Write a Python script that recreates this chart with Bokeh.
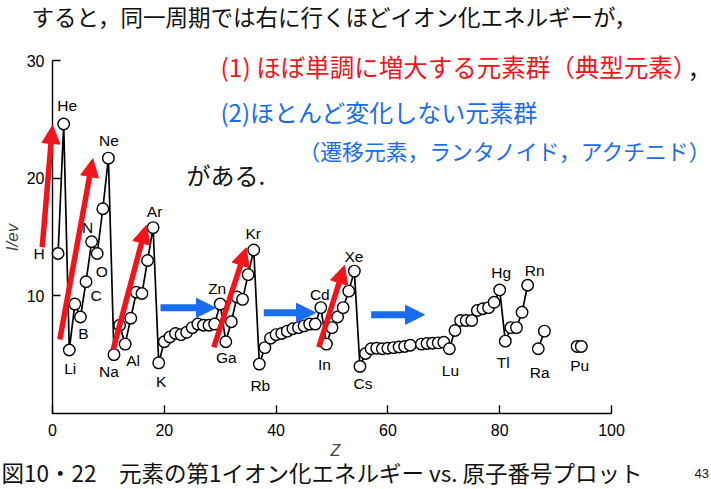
import math
from bokeh.plotting import figure
from bokeh.models import (Range1d, FixedTicker, ColumnDataSource, Label, LabelSet,
                          Arrow, NormalHead)
from bokeh.core.properties import value
from bokeh.embed import file_html
from bokeh.resources import INLINE

# ---------------- data ----------------
symbols = ["H", "He", "Li", "Be", "B", "C", "N", "O", "F", "Ne",
           "Na", "Mg", "Al", "Si", "P", "S", "Cl", "Ar",
           "K", "Ca", "Sc", "Ti", "V", "Cr", "Mn", "Fe", "Co", "Ni", "Cu", "Zn",
           "Ga", "Ge", "As", "Se", "Br", "Kr",
           "Rb", "Sr", "Y", "Zr", "Nb", "Mo", "Tc", "Ru", "Rh", "Pd", "Ag", "Cd",
           "In", "Sn", "Sb", "Te", "I", "Xe",
           "Cs", "Ba", "La", "Ce", "Pr", "Nd", "Pm", "Sm", "Eu", "Gd",
           "Dy", "Ho", "Er", "Tm", "Yb", "Lu",
           "Hf", "Ta", "W", "Re", "Os", "Ir", "Pt", "Au", "Hg",
           "Tl", "Pb", "Bi", "Po", "Rn"]
atomic_z = [1, 2, 3, 4, 5, 6, 7, 8, 9, 10,
            11, 12, 13, 14, 15, 16, 17, 18,
            19, 20, 21, 22, 23, 24, 25, 26, 27, 28, 29, 30,
            31, 32, 33, 34, 35, 36,
            37, 38, 39, 40, 41, 42, 43, 44, 45, 46, 47, 48,
            49, 50, 51, 52, 53, 54,
            55, 56, 57, 58, 59, 60, 61, 62, 63, 64,
            66, 67, 68, 69, 70, 71,
            72, 73, 74, 75, 76, 77, 78, 79, 80,
            81, 82, 83, 84, 85]
ion_energy = [13.6, 24.6, 5.4, 9.3, 8.2, 11.2, 14.6, 13.6, 17.4, 21.7,
              5.0, 7.5, 5.9, 8.1, 10.3, 10.2, 13.0, 15.8,
              4.3, 6.1, 6.5, 6.8, 6.7, 6.9, 7.3, 7.6, 7.5, 7.5, 7.6, 9.3,
              6.1, 7.8, 9.9, 9.7, 11.8, 13.9,
              4.2, 5.6, 6.4, 6.7, 6.8, 7.0, 7.2, 7.3, 7.45, 7.6, 7.6, 9.0,
              5.9, 7.3, 8.2, 9.0, 10.4, 12.1,
              4.0, 5.1, 5.5, 5.55, 5.5, 5.55, 5.6, 5.65, 5.7, 5.8,
              5.9, 5.95, 5.97, 6.0, 6.05, 5.5,
              7.05, 7.9, 7.9, 7.9, 8.75, 8.9, 9.0, 9.45, 10.5,
              6.15, 7.3, 7.3, 8.6, 10.9]

ra_symbols = ["Ra", "Ac"]
ra_z = [86.9, 88.0]
ra_energy = [5.5, 7.0]

pu_symbols = ["Pu", "Am"]
pu_z = [93.85, 94.6]
pu_energy = [5.7, 5.7]

x_ticks = [0, 20, 40, 60, 80, 100]
y_ticks = [10, 20, 30]

# labelled elements
label_names = ["H", "He", "Li", "B", "C", "N", "O", "Ne", "Na", "Al", "Ar", "K",
               "Zn", "Ga", "Kr", "Rb", "Cd", "In", "Xe", "Cs", "Lu", "Hg", "Tl",
               "Rn", "Ra", "Pu"]

# arrows (data units)
red_x0 = [-1.84, 1.31, 10.86, 28.86, 47.64]
red_y0 = [14.13, 6.29, 5.44, 5.63, 5.63]
red_x1 = [0.0, 7.21, 16.76, 34.65, 52.24]
red_y1 = [24.48, 21.65, 15.98, 14.08, 12.58]
blue_x0 = [19.32, 37.8, 57.01]
blue_y = [8.98, 8.56, 8.39]
blue_x1 = [29.16, 47.05, 66.55]

# ---------------- layout / style ----------------
# pixel positions of the axes (x: 0..100, y: 0..30) inside the 711x489 page
FL, FR, FT, FB = 52, 611, 60, 413
W, H = 711, 489

def X(px):
    return (px - FL) / (FR - FL) * 100.0

def Y(py):
    return (FB - py) / (FB - FT) * 30.0

# label pixel offsets relative to the element point
label_offsets = {
    "H": (-19, 0), "He": (3.5, -19), "Li": (1, 19), "B": (3, 16), "C": (10, 14),
    "N": (-4, -14.5), "O": (4.5, 18), "Ne": (0.5, -17.5), "Na": (-5, 16.5),
    "Al": (8, 16.5), "Ar": (1.5, -16), "K": (2.5, 18.5), "Zn": (-3, -15.5),
    "Ga": (0.5, 16), "Kr": (-0.5, -16), "Rb": (1, 21.5), "Cd": (-1, -13),
    "In": (-2, 20.5), "Xe": (-0.5, -14.5), "Cs": (3, 17.5), "Lu": (1, 21.5),
    "Hg": (1.5, -17.5), "Tl": (-2, 21), "Rn": (7, -14.5), "Ra": (1.5, 23.5),
    "Pu": (2.5, 19),
}

JP = "Noto Sans CJK JP"
LAT = "Liberation Sans"

p = figure(width=W, height=H, x_range=Range1d(X(0), X(W)), y_range=Range1d(Y(H), Y(0)),
           output_backend="svg", toolbar_location=None, title=None,
           min_border_left=0, min_border_right=0, min_border_top=0, min_border_bottom=0)
p.grid.visible = False
p.outline_line_color = None
p.background_fill_color = "white"
p.border_fill_color = "white"

for ax, ticks, bnds in ((p.xaxis[0], x_ticks, (0, 100)), (p.yaxis[0], y_ticks, (0, 30))):
    ax.fixed_location = 0
    ax.bounds = bnds
    ax.ticker = FixedTicker(ticks=ticks)
    ax.axis_line_color = "black"
    ax.axis_line_width = 1.4
    ax.major_tick_line_color = "black"
    ax.major_tick_line_width = 1.4
    ax.major_tick_in = 8
    ax.major_tick_out = 0
    ax.minor_tick_line_color = None
    ax.major_label_text_font = LAT
    ax.major_label_text_font_size = "16px"
    ax.major_label_text_color = "black"
p.xaxis.major_label_standoff = 10
p.yaxis.major_label_standoff = 8

# data lines and points
main_src = ColumnDataSource(dict(z=atomic_z, e=ion_energy, s=symbols))
ra_src = ColumnDataSource(dict(z=ra_z, e=ra_energy, s=ra_symbols))
pu_src = ColumnDataSource(dict(z=pu_z, e=pu_energy, s=pu_symbols))

p.line("z", "e", source=main_src, line_color="black", line_width=1.7)
p.line("z", "e", source=ra_src, line_color="black", line_width=1.7)
for src in (main_src, ra_src, pu_src):
    p.scatter("z", "e", source=src, size=11.5, fill_color="white",
              line_color="black", line_width=1.4)

# element labels
lookup = {}
for syms, zs, es in ((symbols, atomic_z, ion_energy), (ra_symbols, ra_z, ra_energy),
                     (pu_symbols, pu_z, pu_energy)):
    for s, z, e in zip(syms, zs, es):
        lookup[s] = (z, e)
lab = ColumnDataSource(dict(
    x=[lookup[n][0] for n in label_names],
    y=[lookup[n][1] for n in label_names],
    t=label_names,
    dx=[label_offsets[n][0] for n in label_names],
    dy=[-label_offsets[n][1] for n in label_names],
))
p.add_layout(LabelSet(x="x", y="y", text="t", x_offset="dx", y_offset="dy", source=lab,
                      text_font=value(LAT), text_font_size="15.5px", text_color="black",
                      text_align="center", text_baseline="middle"))

# arrows
RED = "#F2141B"
BLUE = "#1A6CEE"
red_src = ColumnDataSource(dict(x0=red_x0, y0=red_y0, x1=red_x1, y1=red_y1))
p.add_layout(Arrow(x_start="x0", y_start="y0", x_end="x1", y_end="y1", source=red_src,
                   line_color=RED, line_width=5.5,
                   end=NormalHead(size=18, fill_color=RED, line_color=RED, line_width=1)))
blue_src = ColumnDataSource(dict(x0=blue_x0, y0=blue_y, x1=blue_x1, y1=blue_y))
p.add_layout(Arrow(x_start="x0", y_start="y0", x_end="x1", y_end="y1", source=blue_src,
                   line_color=BLUE, line_width=7,
                   end=NormalHead(size=19, fill_color=BLUE, line_color=BLUE, line_width=1)))

# axis titles
p.add_layout(Label(x=X(12), y=Y(237), text="I/ev", angle=math.pi / 2,
                   text_font=LAT, text_font_size="17px", text_font_style="italic",
                   text_align="center", text_baseline="middle"))
p.add_layout(Label(x=X(335), y=Y(450), text="Z", text_font=LAT, text_font_size="16px",
                   text_font_style="italic", text_align="center", text_baseline="middle"))

# slide texts
def jp_label(txt, px, py, size, color, align="left"):
    p.add_layout(Label(x=X(px), y=Y(py), text=txt, text_font=JP, text_font_size=size,
                       text_color=color, text_align=align, text_baseline="middle"))

jp_label("すると，同一周期では右に行くほどイオン化エネルギーが，", 31, 15, "22.5px", "#111111")
jp_label("(1) ほぼ単調に増大する元素群（典型元素）", 220, 66, "24.5px", RED)
jp_label("，", 687, 67, "24px", "#111111")
jp_label("(2)ほとんど変化しない元素群", 220, 111, "24px", BLUE)
jp_label("（遷移元素，ランタノイド，アクチニド）", 298, 150, "21.8px", BLUE)
jp_label("がある.", 186, 174, "24px", "#111111")
jp_label("図10・22　元素の第1イオン化エネルギー vs. 原子番号プロット", 1, 471, "22.5px", "#111111")
p.add_layout(Label(x=X(694), y=Y(473), text="43", text_font=LAT, text_font_size="13px",
                   text_color="#111111", text_align="left", text_baseline="middle"))

open("out.html", "w").write(file_html(p, INLINE))
